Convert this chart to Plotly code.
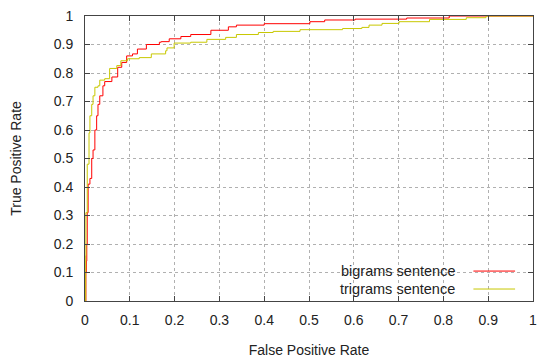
import plotly.graph_objects as go

# Bigrams sentence ROC (FPR, TPR)
bigram_fpr = [0, 0.002, 0.003, 0.004, 0.005, 0.007, 0.011, 0.015, 0.018, 0.022, 0.026, 0.029, 0.033,
              0.040, 0.044, 0.060, 0.073, 0.082, 0.093, 0.106, 0.117, 0.137, 0.166, 0.170, 0.188,
              0.214, 0.236, 0.281, 0.320, 0.338, 0.400, 0.502, 0.535, 0.603, 0.718, 0.813, 1.0]
bigram_tpr = [0, 0.10, 0.14, 0.20, 0.31, 0.41, 0.43, 0.50, 0.53, 0.60, 0.65, 0.69, 0.72,
              0.755, 0.77, 0.786, 0.82, 0.837, 0.86, 0.867, 0.884, 0.90, 0.908, 0.91, 0.92,
              0.928, 0.935, 0.95, 0.962, 0.968, 0.973, 0.98, 0.986, 0.989, 0.993, 1.0, 1.0]

# Trigrams sentence ROC (FPR, TPR)
trigram_fpr = [0, 0.0015, 0.002, 0.005, 0.009, 0.011, 0.015, 0.018, 0.022, 0.029, 0.033, 0.044,
               0.055, 0.071, 0.080, 0.095, 0.121, 0.148, 0.180, 0.183, 0.199, 0.236, 0.272, 0.314,
               0.338, 0.387, 0.420, 0.480, 0.575, 0.618, 0.634, 0.663, 0.701, 0.769, 0.851, 0.895, 1.0]
trigram_tpr = [0, 0.16, 0.31, 0.48, 0.59, 0.65, 0.69, 0.72, 0.75, 0.755, 0.775, 0.78,
               0.816, 0.826, 0.843, 0.85, 0.854, 0.867, 0.878, 0.888, 0.905, 0.908, 0.918, 0.925,
               0.935, 0.942, 0.946, 0.952, 0.956, 0.96, 0.968, 0.974, 0.98, 0.988, 0.994, 1.0, 1.0]

tick_vals = [0, 0.1, 0.2, 0.3, 0.4, 0.5, 0.6, 0.7, 0.8, 0.9, 1]
tick_text = ["0", "0.1", "0.2", "0.3", "0.4", "0.5", "0.6", "0.7", "0.8", "0.9", "1"]

series = [
    ("bigrams sentence", bigram_fpr, bigram_tpr, "#ff0000"),
    ("trigrams sentence", trigram_fpr, trigram_tpr, "#c8c800"),
]

FONT = "Liberation Sans, Arial, sans-serif"
fig = go.Figure()
for name, xs, ys, col in series:
    fig.add_trace(go.Scatter(x=xs, y=ys, mode="lines", name=name, line=dict(color=col, width=1, shape="hv"),
                             showlegend=False))

axis_common = dict(
    range=[0, 1], tickvals=tick_vals, ticktext=tick_text,
    showgrid=True, gridcolor="#b0b0b0", griddash="dot", gridwidth=1,
    showline=True, linecolor="#444", linewidth=1, mirror="ticks",
    ticks="inside", ticklen=5, tickcolor="#444", zeroline=False,
    tickfont=dict(family=FONT, size=14, color="#222"),
)
fig.update_xaxes(**axis_common, ticklabelstandoff=6,
                 title=dict(text="False Positive Rate", font=dict(family=FONT, size=14, color="#222"), standoff=18))
fig.update_yaxes(**axis_common, ticklabelstandoff=8,
                 title=dict(text="True Positive Rate", font=dict(family=FONT, size=14, color="#222"), standoff=28))

# Legend (gnuplot style: text then sample line), on a white box
fig.add_shape(type="rect", xref="paper", yref="paper", x0=0.48, x1=1.0, y0=0.0, y1=0.14,
              fillcolor="white", line=dict(width=0), layer="between")
for i, (name, xs, ys, col) in enumerate(series):
    yy = 0.105 - i * 0.063
    fig.add_annotation(xref="paper", yref="paper", x=0.83, y=yy, text=name, showarrow=False,
                       xanchor="right", yanchor="middle", font=dict(family=FONT, size=14.5, color="#222"))
    fig.add_shape(type="line", xref="paper", yref="paper", x0=0.867, x1=0.96, y0=yy, y1=yy,
                  line=dict(color=col, width=1))

fig.update_layout(width=545, height=364, margin=dict(l=85, r=8, t=9, b=61),
                  plot_bgcolor="white", paper_bgcolor="white")
fig.write_html("out.html")
